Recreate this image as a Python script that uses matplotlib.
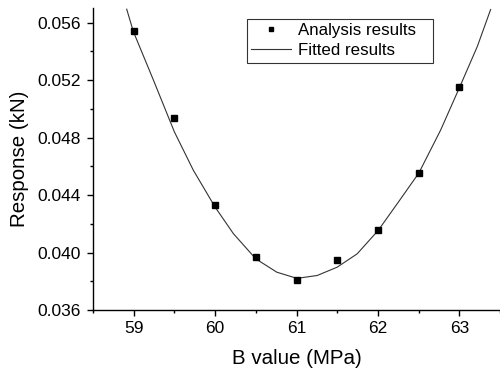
import numpy as np
import matplotlib
matplotlib.use("Agg")
import matplotlib.pyplot as plt
from matplotlib.ticker import MultipleLocator, FormatStrFormatter

plt.rcParams['font.family'] = ['Liberation Sans', 'DejaVu Sans']

# Analysis results (markers)
b_values = [59.0, 59.5, 60.0, 60.5, 61.0, 61.5, 62.0, 62.5, 63.0]
response = [0.05542, 0.04937, 0.04334, 0.03969, 0.03807, 0.03946, 0.04156, 0.04556, 0.05149]

# Fitted results (curve)
fit_b = [58.914, 58.996, 59.242, 59.500, 59.733, 60.000, 60.225, 60.500, 60.758, 61.006,
         61.254, 61.500, 61.746, 62.004, 62.238, 62.503, 62.770, 63.003, 63.221, 63.385]
fit_r = [0.05693, 0.05537, 0.05200, 0.04839, 0.04572, 0.04316, 0.04131, 0.03956, 0.03863, 0.03820,
         0.03840, 0.03898, 0.03991, 0.04154, 0.04340, 0.04553, 0.04851, 0.05149, 0.05433, 0.05691]

fig = plt.figure(figsize=(5.0, 3.72), dpi=100)
ax = fig.add_axes([0.186, 0.1667, 0.814, 0.8113])

ax.plot(b_values, response, 's', color='black', markersize=4.3, label='Analysis results', zorder=3)
ax.plot(fit_b, fit_r, '-', color='#333333', linewidth=0.8, label='Fitted results',
        solid_joinstyle='round')

ax.set_xlim(58.5, 63.5)
ax.set_ylim(0.036, 0.057)
ax.xaxis.set_major_locator(MultipleLocator(1))
ax.xaxis.set_minor_locator(MultipleLocator(0.5))
ax.yaxis.set_major_locator(MultipleLocator(0.004))
ax.yaxis.set_minor_locator(MultipleLocator(0.002))
ax.yaxis.set_major_formatter(FormatStrFormatter('%.3f'))

for s in ['top', 'right']:
    ax.spines[s].set_visible(False)
for s in ['left', 'bottom']:
    ax.spines[s].set_linewidth(1.0)
ax.tick_params(which='major', direction='out', length=4, width=1, labelsize=12.5)
ax.tick_params(which='minor', direction='out', length=2, width=1)
ax.tick_params(axis='x', which='major', pad=4)
ax.tick_params(axis='y', which='major', pad=5)

ax.set_xlabel('B value (MPa)', fontsize=14.8, labelpad=9)
ax.set_ylabel('Response (kN)', fontsize=14.8, labelpad=6)

leg = ax.legend(loc='upper left',
                bbox_to_anchor=(247 / 500, 1 - 63 / 372, 186 / 500, 44 / 372),
                bbox_transform=fig.transFigure, mode='expand',
                frameon=True, fancybox=False, edgecolor='black', fontsize=12.2,
                handlelength=2.35, handletextpad=0.4, markerscale=0.8,
                borderpad=0.25, labelspacing=0.3, borderaxespad=0)
leg.get_frame().set_linewidth(0.8)

fig.savefig('out.png', dpi=100)
